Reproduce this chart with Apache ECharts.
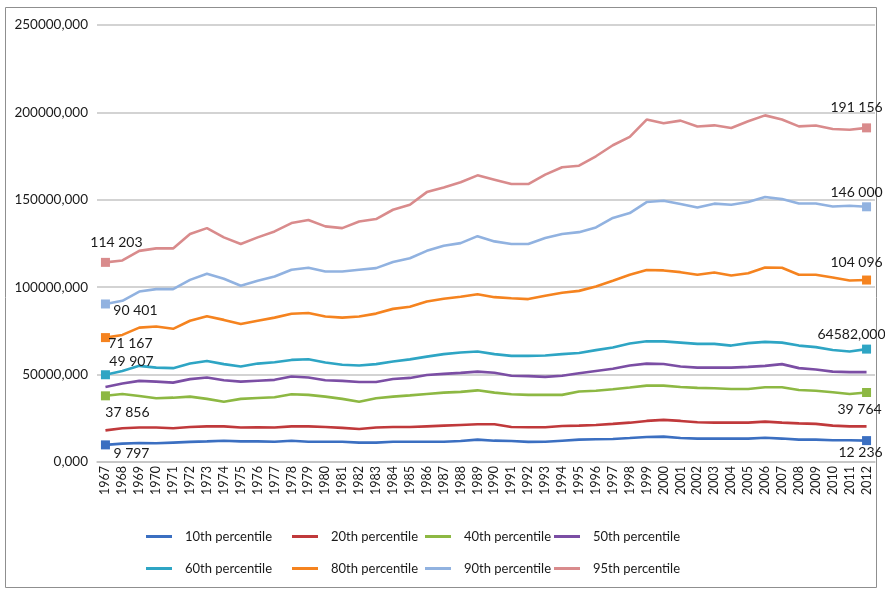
<!DOCTYPE html>
<html>
<head>
<meta charset="utf-8">
<title>Income percentiles 1967-2012</title>
<script src="https://cdn.jsdelivr.net/npm/echarts@6/dist/echarts.min.js"></script>
<style>
    html, body { margin: 0; padding: 0; background: #fff; }
    #main { width: 885px; height: 591px; }
</style>
</head>
<body>
<div id="main"></div>
<script>
// x categories
var years = ['1967','1968','1969','1970','1971','1972','1973','1974','1975','1976',
             '1977','1978','1979','1980','1981','1982','1983','1984','1985','1986',
             '1987','1988','1989','1990','1991','1992','1993','1994','1995','1996',
             '1997','1998','1999','2000','2001','2002','2003','2004','2005','2006',
             '2007','2008','2009','2010','2011','2012'];

var p10 = [9797, 10500, 10900, 10700, 11100, 11500, 11800, 12200, 11800, 11800,
           11600, 12200, 11600, 11600, 11600, 11100, 11100, 11600, 11600, 11600,
           11600, 12000, 12800, 12200, 12000, 11500, 11600, 12200, 12800, 13000,
           13200, 13700, 14300, 14500, 13700, 13400, 13400, 13400, 13400, 13900,
           13400, 12800, 12800, 12400, 12400, 12236];
var p20 = [18100, 19300, 19700, 19700, 19300, 20000, 20400, 20400, 19700, 19800,
           19700, 20400, 20400, 20000, 19500, 18900, 19700, 20000, 20000, 20400,
           20800, 21200, 21600, 21600, 20000, 19900, 19900, 20600, 20800, 21200,
           21800, 22500, 23500, 24100, 23500, 22700, 22500, 22500, 22500, 23100,
           22500, 22100, 21800, 20800, 20400, 20400];
var p40 = [37856, 38900, 37800, 36500, 36800, 37400, 36100, 34500, 36100, 36600,
           37000, 38800, 38400, 37400, 36100, 34500, 36500, 37400, 38100, 38900,
           39700, 40100, 41000, 39700, 38800, 38400, 38400, 38400, 40300, 40800,
           41600, 42600, 43700, 43700, 42900, 42400, 42200, 41800, 41800, 42800,
           42800, 41200, 40800, 39900, 38900, 39764];
var p50 = [42900, 44900, 46400, 46000, 45400, 47400, 48300, 46800, 46000, 46500,
           47000, 48900, 48300, 46800, 46400, 45800, 45800, 47500, 48100, 49800,
           50400, 51000, 51700, 51100, 49300, 49100, 48700, 49300, 50800, 52100,
           53300, 55200, 56300, 56100, 54600, 54000, 54000, 54000, 54400, 55000,
           56000, 53700, 52900, 51700, 51400, 51400];
var p60 = [49907, 52100, 55000, 54000, 53700, 56300, 57800, 56000, 54600, 56300,
           57100, 58400, 58800, 56900, 55600, 55200, 56000, 57500, 58700, 60300,
           61700, 62600, 63200, 61700, 60700, 60700, 60900, 61700, 62400, 64000,
           65500, 67800, 69100, 69000, 68300, 67600, 67600, 66600, 68000, 68700,
           68300, 66600, 65700, 64100, 63200, 64582];
var p80 = [71167, 72700, 76900, 77500, 76200, 80800, 83400, 81300, 78900, 80800,
           82600, 84800, 85200, 83200, 82600, 83200, 84900, 87600, 88800, 91800,
           93400, 94500, 96000, 94300, 93700, 93200, 95100, 96800, 97900, 100400,
           103700, 107100, 109800, 109600, 108600, 107100, 108400, 106700, 108000, 111300,
           111100, 107100, 107100, 105600, 103800, 104096];
var p90 = [90401, 92200, 97500, 98900, 98900, 104200, 107700, 104800, 100800, 103700,
           106100, 110000, 111100, 109000, 109000, 110000, 110900, 114400, 116600, 120800,
           123700, 125200, 129200, 126200, 124700, 124700, 128100, 130400, 131500, 134200,
           139600, 142400, 148700, 149500, 147600, 145600, 147800, 147200, 148700, 151600,
           150400, 147900, 147900, 146200, 146600, 146000];
var p95 = [114203, 115300, 120800, 122200, 122200, 130400, 133800, 128500, 124700, 128500,
           131900, 136700, 138400, 134800, 133800, 137600, 139000, 144300, 147200, 154400,
           157100, 160000, 164000, 161500, 159000, 159000, 164400, 168600, 169500, 174900,
           181200, 186000, 195900, 193800, 195300, 191900, 192600, 191100, 194900, 198300,
           195900, 192000, 192500, 190500, 190100, 191156];

var names = ['10th percentile', '20th percentile', '40th percentile', '50th percentile',
             '60th percentile', '80th percentile', '90th percentile', '95th percentile'];

// first / last point labels as printed on the chart
var labels10 = ['9 797', '12 236'];
var labels40 = ['37 856', '39 764'];
var labels60 = ['49 907', '64582,000'];
var labels80 = ['71 167', '104 096'];
var labels90 = ['90 401', '146 000'];
var labels95 = ['114 203', '191 156'];

var yTicks = [0, 50000, 100000, 150000, 200000, 250000];

(function () {
    var font = 'Lato, "Liberation Sans", sans-serif';

    var lines = [
        { data: p10, color: '#3b6fc1', labels: labels10, offs: [[26, 9], [-6, 12]] },
        { data: p20, color: '#c0393b' },
        { data: p40, color: '#8db843', labels: labels40, offs: [[22, 17], [-7, 17]] },
        { data: p50, color: '#7b4ea4' },
        { data: p60, color: '#2ea5c4', labels: labels60, offs: [[26, -13], [-15, -15]] },
        { data: p80, color: '#f5831f', labels: labels80, offs: [[25, 6], [-10, -18]] },
        { data: p90, color: '#91b2e0', labels: labels90, offs: [[30, 7], [-10, -14]] },
        { data: p95, color: '#d98b8c', labels: labels95, offs: [[11, -20], [-10, -20]] }
    ];

    function buildData(line) {
        var last = line.data.length - 1;
        return line.data.map(function (v, i) {
            if (!line.labels || (i !== 0 && i !== last)) return v;
            var k = i === 0 ? 0 : 1;
            return {
                value: v,
                label: {
                    show: true,
                    position: 'inside',
                    formatter: line.labels[k],
                    offset: line.offs[k]
                }
            };
        });
    }

    var series = lines.map(function (line, idx) {
        var last = line.data.length - 1;
        return {
            name: names[idx],
            type: 'line',
            data: buildData(line),
            symbol: 'rect',
            showAllSymbol: true,
            symbolSize: function (val, params) {
                if (!line.labels) return 0;
                return (params.dataIndex === 0 || params.dataIndex === last) ? 9 : 0;
            },
            lineStyle: { width: 2.6, color: line.color },
            itemStyle: { color: line.color },
            label: {
                color: '#1a1a1a',
                fontSize: 14,
                fontFamily: font
            },
            emphasis: { disabled: true },
            z: 2
        };
    });

    var legendLeft = [146, 292, 425, 554];
    var legendTop = [530, 562];
    var legends = names.map(function (n, i) {
        return {
            data: [n],
            left: legendLeft[i % 4],
            top: legendTop[Math.floor(i / 4)],
            padding: 0,
            icon: 'rect',
            itemWidth: 26,
            itemHeight: 3,
            selectedMode: false,
            textStyle: {
                color: '#1a1a1a',
                fontSize: 13,
                fontFamily: font,
                padding: [0, 0, 0, 8]
            }
        };
    });

    var chart = echarts.init(document.getElementById('main'));
    chart.setOption({
        animation: false,
        backgroundColor: '#fff',
        graphic: [{
            type: 'rect',
            shape: { x: 5.5, y: 7.5, width: 871, height: 580 },
            style: { fill: 'none', stroke: '#8f8f8f', lineWidth: 1 },
            silent: true
        }],
        legend: legends,
        grid: { left: 97, right: 10, top: 25, bottom: 129 },
        xAxis: {
            type: 'category',
            data: years,
            boundaryGap: true,
            axisLine: { lineStyle: { color: '#c4c4c4', width: 1.5 } },
            axisTick: { show: false },
            axisLabel: {
                rotate: 90,
                interval: 0,
                margin: 4,
                color: '#1a1a1a',
                fontSize: 12.5,
                fontFamily: font
            }
        },
        yAxis: {
            type: 'value',
            min: yTicks[0],
            max: yTicks[yTicks.length - 1],
            interval: yTicks[1] - yTicks[0],
            axisLine: { show: false },
            axisTick: { show: false },
            splitLine: { lineStyle: { color: '#c4c4c4', width: 1.5 } },
            axisLabel: {
                margin: 9,
                color: '#1a1a1a',
                fontSize: 13.5,
                fontFamily: font,
                formatter: function (v) { return v + ',000'; }
            }
        },
        series: series
    });
})();
</script>
</body>
</html>
